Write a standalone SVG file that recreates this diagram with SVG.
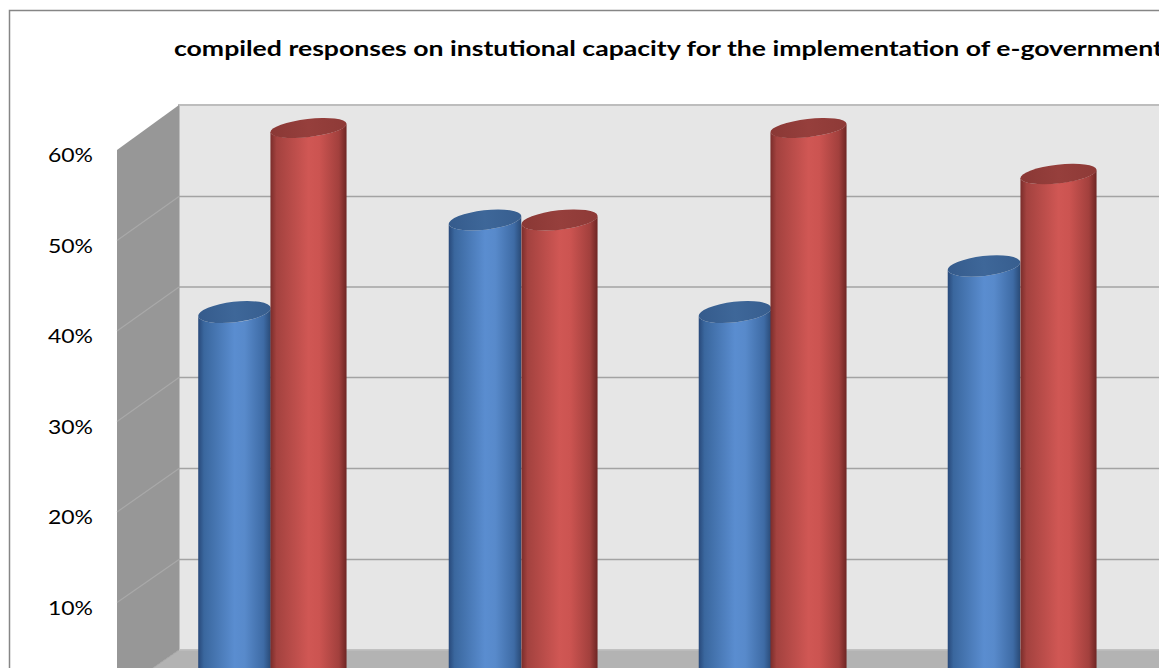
<svg xmlns="http://www.w3.org/2000/svg" width="1159" height="668" viewBox="0 0 1159 668">
  <style>
    .title { font-family: Lato, "Open Sans", "Liberation Sans", sans-serif; font-weight: bold; font-size: 20.5px; fill: #000; }
    .ylab { font-family: Lato, "Liberation Sans", sans-serif; font-size: 19.5px; fill: #000; }
    .grid { stroke: #a3a3a3; stroke-width: 1.6; fill: none; }
    .sgrid { stroke: #a9a9a9; stroke-width: 1.2; fill: none; }
    .bbody { fill: url(#gBlue); }
    .rbody { fill: url(#gRed); }
    .btop { fill: url(#gBlueTop); }
    .rtop { fill: url(#gRedTop); }
  </style>
  <defs>
    <linearGradient id="gBlue" x1="0" y1="0" x2="1" y2="0">
      <stop offset="0" stop-color="#28497a"/>
      <stop offset="0.08" stop-color="#3a679e"/>
      <stop offset="0.5" stop-color="#5a8dd0"/>
      <stop offset="0.64" stop-color="#588acb"/>
      <stop offset="0.9" stop-color="#3e6ba5"/>
      <stop offset="1" stop-color="#294a76"/>
    </linearGradient>
    <linearGradient id="gRed" x1="0" y1="0" x2="1" y2="0">
      <stop offset="0" stop-color="#7a2d2b"/>
      <stop offset="0.08" stop-color="#a3423f"/>
      <stop offset="0.5" stop-color="#d05754"/>
      <stop offset="0.64" stop-color="#cc5451"/>
      <stop offset="0.9" stop-color="#a2403d"/>
      <stop offset="1" stop-color="#6e2523"/>
    </linearGradient>
    <linearGradient id="gBlueTop" x1="0" y1="0" x2="1" y2="0">
      <stop offset="0" stop-color="#355b8c"/>
      <stop offset="0.5" stop-color="#3e6799"/>
      <stop offset="1" stop-color="#375e8f"/>
    </linearGradient>
    <linearGradient id="gRedTop" x1="0" y1="0" x2="1" y2="0">
      <stop offset="0" stop-color="#8a3835"/>
      <stop offset="0.5" stop-color="#963f3c"/>
      <stop offset="1" stop-color="#8e3a37"/>
    </linearGradient>
  </defs>

  <rect x="0" y="0" width="1159" height="668" fill="#ffffff"/>
  <g id="chart-border">
    <rect x="9.5" y="10.5" width="1200" height="700" fill="#ffffff" stroke="#868686" stroke-width="1.5"/>
  </g>

  <g id="title">
    <text class="title" x="174" y="56" textLength="989" lengthAdjust="spacingAndGlyphs">compiled responses on instutional capacity for the implementation of e-government</text>
  </g>

  <g id="walls">
    <rect x="179" y="105" width="1000" height="545" fill="#e6e6e6" stroke="#bdbdbd" stroke-width="2"/>
    <polygon points="117,150 179,105 179,650 117,693" fill="#979797"/>
    <polygon points="179,650 1200,650 1200,720 90,720 117,693" fill="#b3b3b3"/>
    <line x1="179" y1="650" x2="1200" y2="650" stroke="#c4c4c4" stroke-width="1"/>
    <line x1="179" y1="650" x2="117" y2="693" stroke="#a5a5a5" stroke-width="1"/>
    <g id="back-gridlines">
      <line class="grid" x1="179" y1="196.5" x2="1200" y2="196.5"/>
      <line class="grid" x1="179" y1="287" x2="1200" y2="287"/>
      <line class="grid" x1="179" y1="377.5" x2="1200" y2="377.5"/>
      <line class="grid" x1="179" y1="468.5" x2="1200" y2="468.5"/>
      <line class="grid" x1="179" y1="559.5" x2="1200" y2="559.5"/>
    </g>
    <g id="side-gridlines">
      <line class="sgrid" x1="117" y1="240.5" x2="179" y2="196.5"/>
      <line class="sgrid" x1="117" y1="331" x2="179" y2="287"/>
      <line class="sgrid" x1="117" y1="421.5" x2="179" y2="377.5"/>
      <line class="sgrid" x1="117" y1="512" x2="179" y2="468.5"/>
      <line class="sgrid" x1="117" y1="602.5" x2="179" y2="559.5"/>
    </g>
  </g>

  <g id="axis-labels">
    <text class="ylab" x="48" y="162" textLength="45" lengthAdjust="spacingAndGlyphs">60%</text>
    <text class="ylab" x="48" y="252.5" textLength="45" lengthAdjust="spacingAndGlyphs">50%</text>
    <text class="ylab" x="48" y="343" textLength="45" lengthAdjust="spacingAndGlyphs">40%</text>
    <text class="ylab" x="48" y="433.5" textLength="45" lengthAdjust="spacingAndGlyphs">30%</text>
    <text class="ylab" x="48" y="524" textLength="45" lengthAdjust="spacingAndGlyphs">20%</text>
    <text class="ylab" x="48" y="614.5" textLength="45" lengthAdjust="spacingAndGlyphs">10%</text>
  </g>

  <g id="bar-s1-c1">
    <path class="bbody" d="M198.23,316.13 A36.5,10.3 -6.5 0 0 270.77,307.87 L270.77,700 L198.23,700 Z"/>
    <ellipse class="btop" cx="234.5" cy="312" rx="36.5" ry="10.3" transform="rotate(-6.5 234.5 312)"/>
  </g>
  <g id="bar-s2-c1">
    <path class="rbody" d="M270.45,132.33 A38.3,9 -6.5 0 0 346.55,123.67 L346.55,700 L270.45,700 Z"/>
    <ellipse class="rtop" cx="308.5" cy="128" rx="38.3" ry="9" transform="rotate(-6.5 308.5 128)"/>
  </g>

  <g id="bar-s1-c2">
    <path class="bbody" d="M448.73,224.13 A36.5,9.7 -6.5 0 0 521.27,215.87 L521.27,700 L448.73,700 Z"/>
    <ellipse class="btop" cx="485" cy="220" rx="36.5" ry="9.7" transform="rotate(-6.5 485 220)"/>
  </g>
  <g id="bar-s2-c2">
    <path class="rbody" d="M521.45,224.33 A38.3,9.7 -6.5 0 0 597.55,215.67 L597.55,700 L521.45,700 Z"/>
    <ellipse class="rtop" cx="559.5" cy="220" rx="38.3" ry="9.7" transform="rotate(-6.5 559.5 220)"/>
  </g>

  <g id="bar-s1-c3">
    <path class="bbody" d="M698.73,316.13 A36.5,10.3 -6.5 0 0 771.27,307.87 L771.27,700 L698.73,700 Z"/>
    <ellipse class="btop" cx="735" cy="312" rx="36.5" ry="10.3" transform="rotate(-6.5 735 312)"/>
  </g>
  <g id="bar-s2-c3">
    <path class="rbody" d="M770.45,132.33 A38.3,9 -6.5 0 0 846.55,123.67 L846.55,700 L770.45,700 Z"/>
    <ellipse class="rtop" cx="808.5" cy="128" rx="38.3" ry="9" transform="rotate(-6.5 808.5 128)"/>
  </g>

  <g id="bar-s1-c4">
    <path class="bbody" d="M947.73,270.13 A36.5,10 -6.5 0 0 1020.27,261.87 L1020.27,700 L947.73,700 Z"/>
    <ellipse class="btop" cx="984" cy="266" rx="36.5" ry="10" transform="rotate(-6.5 984 266)"/>
  </g>
  <g id="bar-s2-c4">
    <path class="rbody" d="M1020.45,178.33 A38.3,9.3 -6.5 0 0 1096.55,169.67 L1096.55,700 L1020.45,700 Z"/>
    <ellipse class="rtop" cx="1058.5" cy="174" rx="38.3" ry="9.3" transform="rotate(-6.5 1058.5 174)"/>
  </g>
</svg>
